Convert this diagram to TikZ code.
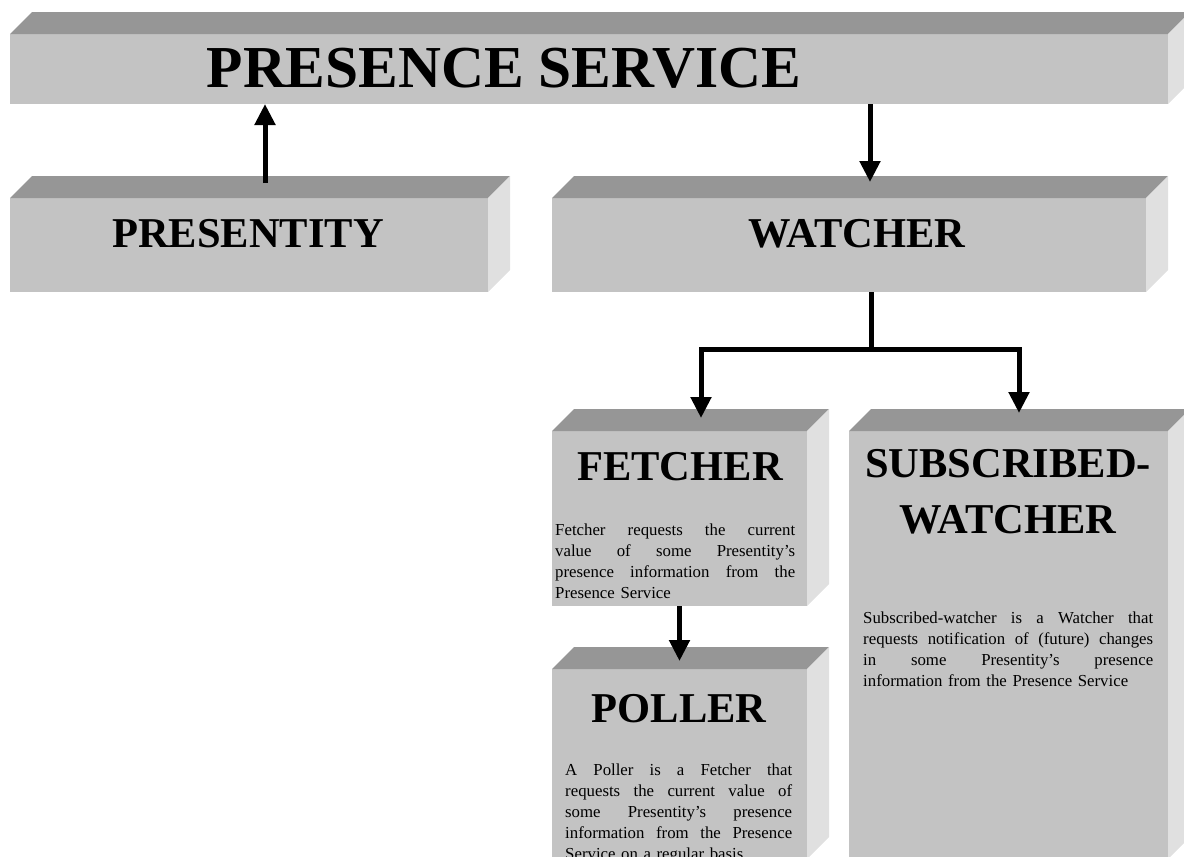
\documentclass[tikz,border=0pt]{standalone}
\usepackage{fontspec}
\setmainfont{Liberation Serif}
\usetikzlibrary{arrows.meta,calc}
\definecolor{frontc}{RGB}{195,195,195}
\definecolor{topc}{RGB}{150,150,150}
\definecolor{sidec}{RGB}{224,224,224}
\newcommand\bodyfont{\fontsize{16.8}{21}\selectfont}
\newcommand\titlefont{\bfseries\fontsize{42.5}{56}\selectfont}
\newcommand\bigtitlefont{\bfseries\fontsize{59.5}{64}\selectfont}
\newcommand\jline[2]{\leavevmode\hbox to #1{\spaceskip=\fontdimen2\font plus 1fil\relax #2}}
\tikzset{
  face/.style={fill=frontc, draw=none, rectangle, inner sep=0pt, outer sep=0pt, anchor=north west},
  title/.style={anchor=base, font=\titlefont, inner sep=0pt},
  body/.style={anchor=base west, font=\bodyfont, inner sep=0pt, align=left},
  conn/.style={line width=5pt, draw=black},
  arr/.style={conn, -{Triangle[length=21pt,width=20pt]}}
}
\begin{document}
\begin{tikzpicture}[x=1pt,y=1pt]
\useasboundingbox (0,0) rectangle (1184,-857);
\clip (0,0) rectangle (1184,-857);
% front faces
\node[face, minimum width=1158pt, minimum height=70pt] (ps) at (10,-34) {};
\node[face, minimum width=478pt, minimum height=94pt] (pe) at (10,-198) {};
\node[face, minimum width=594pt, minimum height=94pt] (wa) at (552,-198) {};
\node[face, minimum width=255pt, minimum height=175pt] (fe) at (552,-431) {};
\node[face, minimum width=255pt, minimum height=190pt] (po) at (552,-669) {};
\node[face, minimum width=319pt, minimum height=428pt] (sw) at (849,-431) {};
% top and side faces
\foreach \n in {ps,pe,wa,fe,po,sw}{
  \fill[topc] (\n.north west) -- ++(22,22) -- ([shift={(22,22)}]\n.north east) -- (\n.north east) -- cycle;
  \fill[sidec] (\n.north east) -- ++(22,22) -- ([shift={(22,22)}]\n.south east) -- (\n.south east) -- cycle;
}
% titles
\node[title, font=\bigtitlefont] (tps) at (504,-87) {PRESENCE SERVICE};
\node[title] (tpe) at (248,-247) {PRESENTITY};
\node[title] (twa) at (857,-247) {WATCHER};
\node[title] (tfe) at (680,-480) {FETCHER};
\node[title] (tpo) at (679,-722) {POLLER};
\node[title] (tsw1) at (1008,-477) {SUBSCRIBED-};
\node[title] (tsw2) at (1008,-533) {WATCHER};
% body texts
\node[body, text width=240pt] (bfe) at (555,-535) {%
\jline{240pt}{Fetcher requests the current}\\
\jline{240pt}{value of some Presentity’s}\\
\jline{240pt}{presence information from the}\\
Presence Service};
\node[body, text width=227pt] (bpo) at (565,-775) {%
\jline{227pt}{A Poller is a Fetcher that}\\
\jline{227pt}{requests the current value of}\\
\jline{227pt}{some Presentity’s presence}\\
\jline{227pt}{information from the Presence}\\
Service on a regular basis};
\node[body, text width=290pt] (bsw) at (863,-623) {%
\jline{290pt}{Subscribed-watcher is a Watcher that}\\
\jline{290pt}{requests notification of (future) changes}\\
\jline{290pt}{in some Presentity’s presence}\\
information from the Presence Service};
% connectors
\coordinate (a1) at ([shift={(16,15)}]pe.north);
\draw[arr] (a1) -- (a1 |- ps.south);
\coordinate (a2) at ([shift={(21,16)}]wa.north);
\draw[arr] (a2 |- ps.south) -- (a2);
\coordinate (w1) at ([xshift=22]wa.south);
\coordinate (br) at ([yshift=-57]w1);
\coordinate (fa) at ([shift={(21.5,13)}]fe.north);
\coordinate (sa) at ([shift={(10.5,18)}]sw.north);
\draw[conn] (w1) -- (br);
\draw[conn, line cap=rect] (fa |- br) -- (sa |- br);
\draw[arr] (fa |- br) -- (fa);
\draw[arr] (sa |- br) -- (sa);
\draw[arr] (fe.south) -- ([yshift=8]po.north);
\end{tikzpicture}
\end{document}
